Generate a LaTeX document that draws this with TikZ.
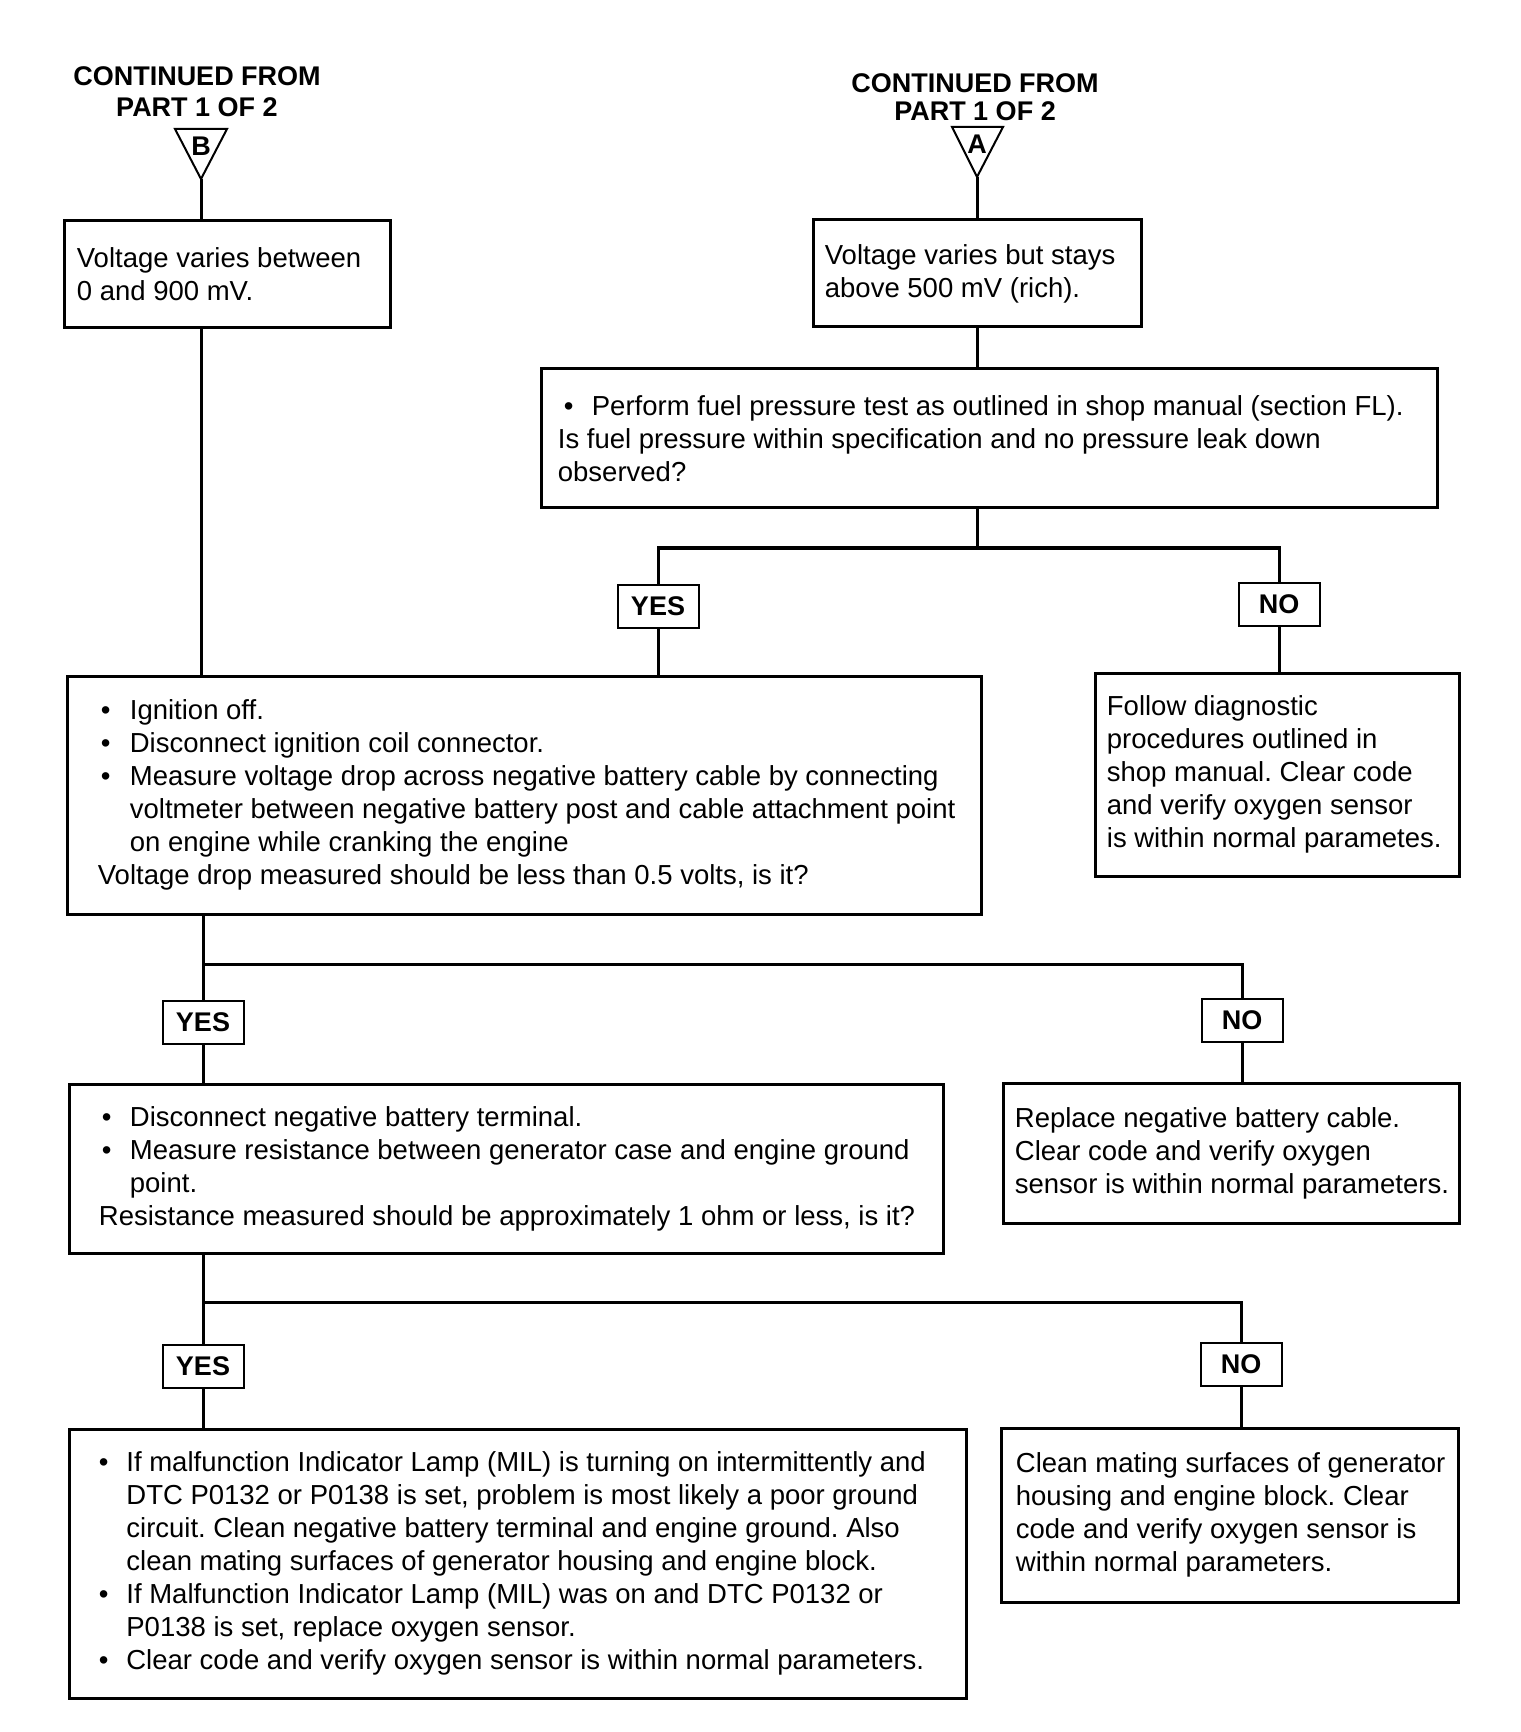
\documentclass[tikz,border=0pt]{standalone}
\usepackage{fontspec}
\setmainfont{Liberation Sans}
\frenchspacing
\newcommand\blt[2]{\makebox[#1][l]{\hspace*{#2}\textbullet}}
\begin{document}
\begin{tikzpicture}[x=0.5pt,y=-0.5pt,
  box/.style 2 args={draw, line width=1.5pt, minimum width=#1*0.5pt, minimum height=#2*0.5pt, inner sep=0pt},
  lbl/.style={draw, line width=1pt, minimum width=40.5pt, minimum height=21.5pt, inner sep=0pt, font=\bfseries\fontsize{13.5pt}{16pt}\selectfont},
  txt/.style={anchor=west, inner sep=0pt, align=left, font=\frenchspacing\fontsize{13.75pt}{16.5pt}\selectfont},
  head/.style={align=center, inner sep=0pt, font=\bfseries\fontsize{13.5pt}{15.5pt}\selectfont},
  letter/.style={inner sep=0pt, font=\bfseries\fontsize{13.5pt}{14pt}\selectfont},
  conn/.style={line width=1.5pt, line join=miter},
  tri/.style={line width=1pt, line join=miter}
]
\useasboundingbox (0,0) rectangle (1520,1732);
\fill[white] (0,0) rectangle (1520,1732);

% headings and off-page connectors
\node[head] (hB) at (197,92) {CONTINUED FROM\\PART 1 OF 2};
\node[head, font=\bfseries\fontsize{13.5pt}{13.75pt}\selectfont] (hA) at (975,97) {CONTINUED FROM\\PART 1 OF 2};
\coordinate (aB) at (201,179);
\coordinate (aA) at (977,177);
\draw[tri] (175,129) -- (227,129) -- (aB) -- cycle;
\draw[tri] (952,127) -- (1003,127) -- (aA) -- cycle;
\node[letter] (lB) at (201,146) {B};
\node[letter] (lA) at (977,144) {A};

% boxes
\node[box={326}{107}] (b1) at (227,274.5) {};
\node[box={328}{107}] (b2) at (977,273.5) {};
\node[box={896}{139}] (fuel) at (989,438.5) {};
\node[lbl] (yes1) at (658,606) {YES};
\node[lbl] (no1) at (1279,604) {NO};
\node[box={914}{238}] (b3) at (524,795) {};
\node[box={364}{203}] (b4) at (1277,774.5) {};
\node[lbl] (yes2) at (203,1022) {YES};
\node[lbl] (no2) at (1242,1020) {NO};
\node[box={874}{169}] (b5) at (506,1168.5) {};
\node[box={456}{140}] (bneg) at (1231,1153) {};
\node[lbl] (yes3) at (203,1366) {YES};
\node[lbl] (no3) at (1241,1364.5) {NO};
\node[box={897}{269}] (b6) at (517.5,1563.5) {};
\node[box={457}{174}] (b7) at (1229.5,1515) {};

% texts
\node[txt] (t1) at ([xshift=7pt]b1.west) {Voltage varies between\\0 and 900 mV.};
\node[txt] (t2) at ([xshift=6.5pt]b2.west) {Voltage varies but stays\\above 500 mV (rich).};
\node[txt] (tf) at ([xshift=9pt]fuel.west) {\blt{17pt}{3pt}Perform fuel pressure test as outlined in shop manual (section FL).\\Is fuel pressure within specification and no pressure leak down\\observed?};
\node[txt] (t3) at ([xshift=16pt]b3.west) {\blt{16pt}{1.5pt}Ignition off.\\
\blt{16pt}{1.5pt}Disconnect ignition coil connector.\\
\blt{16pt}{1.5pt}Measure voltage drop across negative battery cable by connecting\\
\hspace*{16pt}voltmeter between negative battery post and cable attachment point\\
\hspace*{16pt}on engine while cranking the engine\\
Voltage drop measured should be less than 0.5 volts, is it?};
\node[txt] (t4) at ([xshift=6.5pt]b4.west) {Follow diagnostic\\procedures outlined in\\shop manual. Clear code\\and verify oxygen sensor\\is within normal parametes.};
\node[txt] (t5) at ([xshift=15.5pt]b5.west) {\blt{15.5pt}{1.5pt}Disconnect negative battery terminal.\\
\blt{15.5pt}{1.5pt}Measure resistance between generator case and engine ground\\
\hspace*{15.5pt}point.\\
Resistance measured should be approximately 1 ohm or less, is it?};
\node[txt] (tneg) at ([xshift=6.5pt]bneg.west) {Replace negative battery cable.\\Clear code and verify oxygen\\sensor is within normal parameters.};
\node[txt] (t6) at ([xshift=15.5pt]b6.west) {\blt{13.75pt}{0pt}If malfunction Indicator Lamp (MIL) is turning on intermittently and\\
\hspace*{13.75pt}DTC P0132 or P0138 is set, problem is most likely a poor ground\\
\hspace*{13.75pt}circuit. Clean negative battery terminal and engine ground. Also\\
\hspace*{13.75pt}clean mating surfaces of generator housing and engine block.\\
\blt{13.75pt}{0pt}If Malfunction Indicator Lamp (MIL) was on and DTC P0132 or\\
\hspace*{13.75pt}P0138 is set, replace oxygen sensor.\\
\blt{13.75pt}{0pt}Clear code and verify oxygen sensor is within normal parameters.};
\node[txt] (t7) at ([xshift=8pt]b7.west) {Clean mating surfaces of generator\\housing and engine block. Clear\\code and verify oxygen sensor is\\within normal parameters.};

% connectors
\coordinate (s1) at (977,548);
\coordinate (s2) at (203,964);
\coordinate (s3) at (203,1302);
\draw[conn] (aB) -- (aB |- b1.north);
\draw[conn] (b1.south -| aB) -- (b3.north -| aB);
\draw[conn] (aA) -- (b2.north);
\draw[conn] (b2.south) -- (b2.south |- fuel.north);
\draw[conn] (fuel.south -| s1) -- (s1);
\draw[conn] (yes1.north) -- (yes1.north |- s1) -- (no1.north |- s1) -- (no1.north);
\draw[conn] (yes1.south) -- (yes1.south |- b3.north);
\draw[conn] (no1.south) -- (no1.south |- b4.north);
\draw[conn] (b3.south -| s2) -- (yes2.north);
\draw[conn] (s2) -- (no2.north |- s2) -- (no2.north);
\draw[conn] (yes2.south) -- (yes2.south |- b5.north);
\draw[conn] (no2.south) -- (no2.south |- bneg.north);
\draw[conn] (b5.south -| s3) -- (yes3.north);
\draw[conn] (s3) -- (no3.north |- s3) -- (no3.north);
\draw[conn] (yes3.south) -- (yes3.south |- b6.north);
\draw[conn] (no3.south) -- (no3.south |- b7.north);
\end{tikzpicture}
\end{document}
